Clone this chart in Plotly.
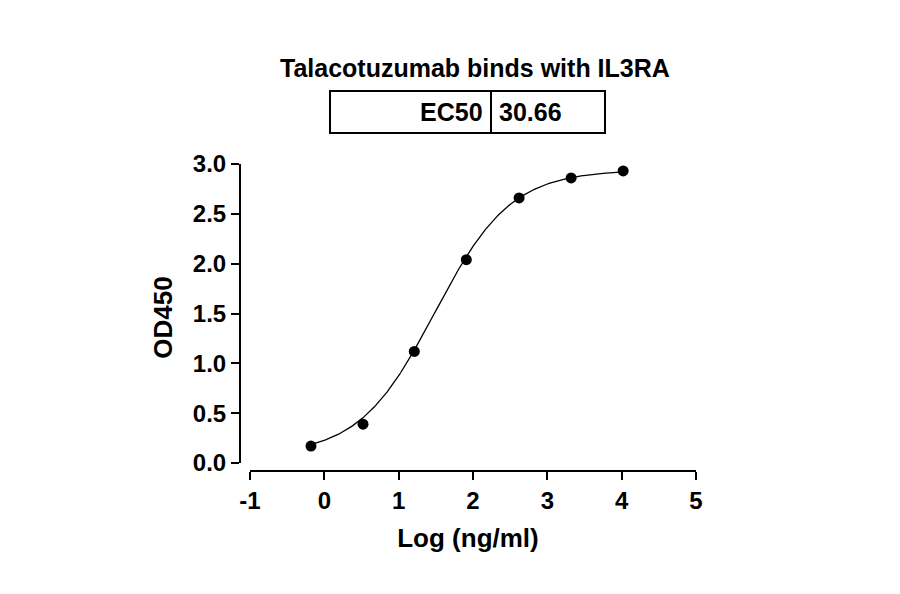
import numpy as np
import plotly.graph_objects as go

log_conc = [-0.18, 0.52, 1.21, 1.91, 2.62, 3.32, 4.02]
od450 = [0.17, 0.39, 1.12, 2.04, 2.66, 2.86, 2.93]
ec50 = 30.66
bottom, top, hill = 0.08, 2.94, 0.85
x_ticks = [-1, 0, 1, 2, 3, 4, 5]
x_labels = ["-1", "0", "1", "2", "3", "4", "5"]
y_ticks = [0, 0.5, 1, 1.5, 2, 2.5, 3]
y_labels = ["0.0", "0.5", "1.0", "1.5", "2.0", "2.5", "3.0"]

xf = np.linspace(-0.18, 4.02, 300)
yf = bottom + (top - bottom) / (1 + 10 ** ((np.log10(ec50) - xf) * hill))

F = "Liberation Sans, Arial, sans-serif"
fig = go.Figure()
fig.add_trace(go.Scatter(x=xf, y=yf, mode="lines", line=dict(color="black", width=1.3), hoverinfo="skip"))
fig.add_trace(go.Scatter(x=log_conc, y=od450, mode="markers", marker=dict(color="black", size=11)))

W, H = 456, 307
def px(x): return (x - 232) / W
def py(y): return (463 - y) / H

shapes = [
    dict(type="line", xref="x", yref="paper", x0=-1, x1=5, y0=0, y1=0, line=dict(width=2, color="black")),
    dict(type="line", xref="paper", yref="y", x0=0, x1=0, y0=0, y1=3, line=dict(width=2, color="black")),
    dict(type="rect", xref="paper", yref="paper", x0=px(322), x1=px(597), y0=py(125), y1=py(83), line=dict(width=2, color="black")),
    dict(type="line", xref="paper", yref="paper", x0=px(483), x1=px(483), y0=py(125), y1=py(83), line=dict(width=2, color="black")),
]
ann = [
    dict(text="<b>Talacotuzumab binds with IL3RA</b>", x=px(467), y=py(60), xref="paper", yref="paper", yanchor="middle", showarrow=False, font=dict(size=25, family=F, color="black")),
    dict(text="<b>EC50</b>", x=px(477), y=py(104), xref="paper", yref="paper", xanchor="right", yanchor="middle", showarrow=False, font=dict(size=25, family=F, color="black")),
    dict(text="<b>30.66</b>", x=px(489), y=py(104), xref="paper", yref="paper", xanchor="left", yanchor="middle", showarrow=False, font=dict(size=25, family=F, color="black")),
]
fig.update_layout(
    width=900, height=594, margin=dict(l=232, r=212, t=156, b=131, autoexpand=False),
    plot_bgcolor="white", paper_bgcolor="white", showlegend=False,
    shapes=shapes, annotations=ann,
    xaxis=dict(range=[-1.135, 5], tickvals=x_ticks, ticktext=["<b>%s</b>" % t for t in x_labels], ticks="outside", ticklen=8, tickwidth=2,
               tickcolor="black", showgrid=False, zeroline=False, showline=False, automargin=False,
               tickfont=dict(size=24, family=F, color="black"),
               title=dict(text="<b>Log (ng/ml)</b>", font=dict(size=26, family=F, color="black"), standoff=16)),
    yaxis=dict(range=[-0.08, 3.0], tickvals=y_ticks, ticktext=["<b>%s</b>" % t for t in y_labels],
               ticks="outside", ticklen=8, tickwidth=2, tickcolor="black", showgrid=False, zeroline=False, showline=False, automargin=False,
               tickfont=dict(size=24, family=F, color="black"),
               title=dict(text="<b>OD450</b>", font=dict(size=26, family=F, color="black"), standoff=12)),
)
fig.write_html("out.html")
